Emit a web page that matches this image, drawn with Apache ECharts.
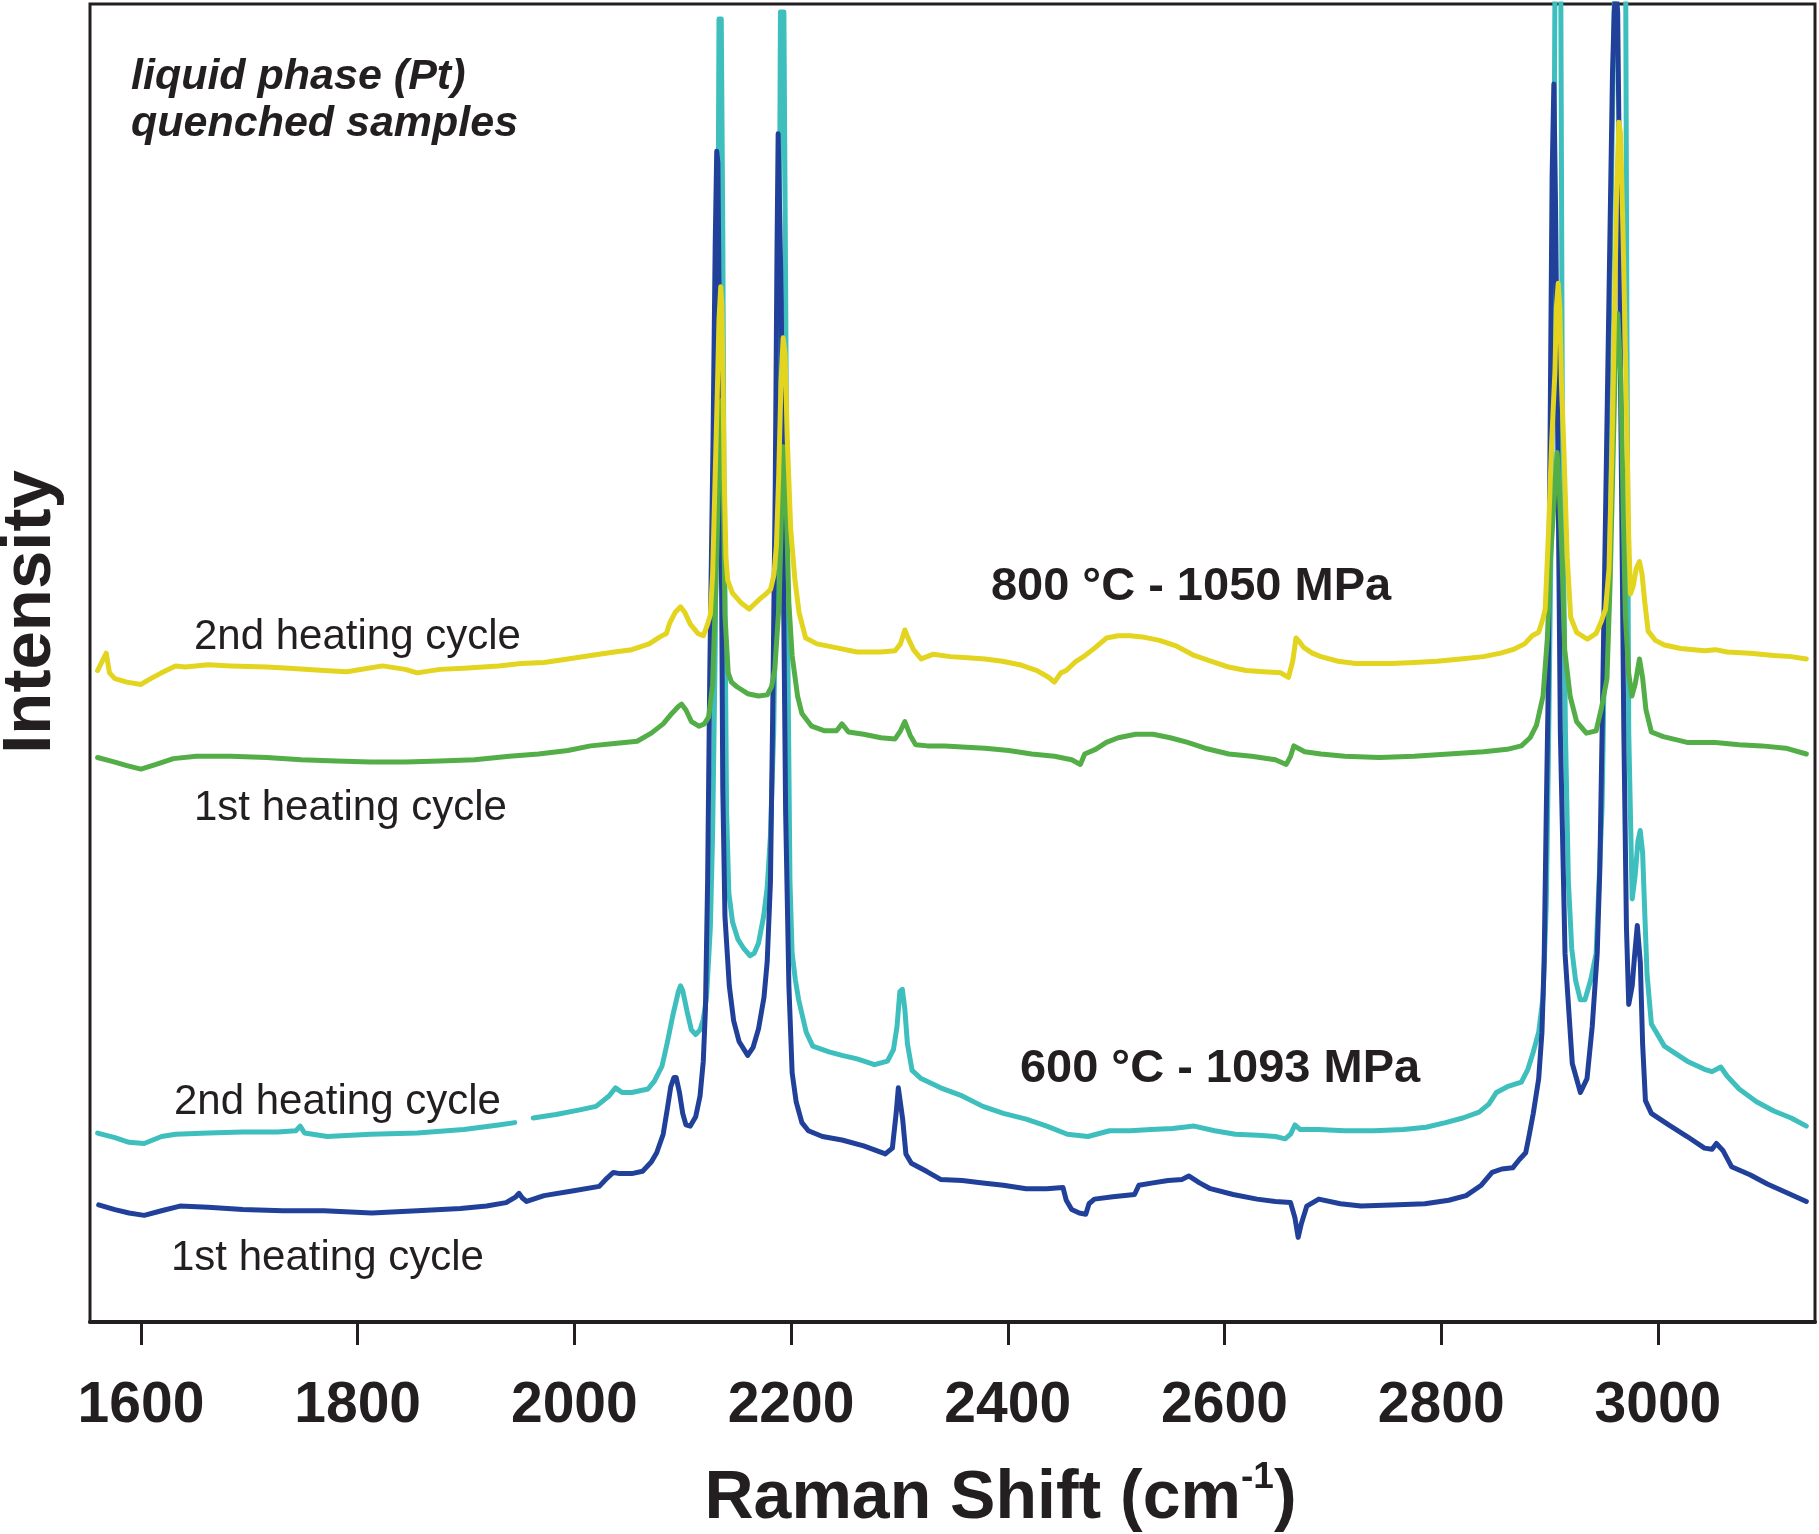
<!DOCTYPE html>
<html><head><meta charset="utf-8">
<script src="https://cdn.jsdelivr.net/npm/echarts@6/dist/echarts.min.js"></script>
<style>html,body{margin:0;padding:0;background:#fff}#chart{width:1819px;height:1534px}</style>
</head><body><div id="chart"></div>
<script>
// Raman shift axis (cm-1)
const xRange = [1553, 3145];
const xTicks = [1600, 1800, 2000, 2200, 2400, 2600, 2800, 3000];
// Intensity in arbitrary units (offset spectra)
const yRange = [0, 1137];

// 800 °C - 1050 MPa, 2nd heating cycle  [shift, intensity]
const spec800_2nd = [[1560,562],[1568,577],[1571,560],[1576,555],[1587,552],[1600,550],[1609,555],[1619,560],[1632,566],[1641,565],[1662,567],[1683,566],[1716,565],[1737,564],[1769,562],[1790,561],[1823,566],[1844,563],[1855,560],[1876,563],[1898,564],[1930,566],[1951,568],[1972,569],[1994,572],[2015,575],[2037,578],[2053,580],[2069,585],[2079,591],[2085,594],[2088,603],[2093,612],[2098,617],[2102,612],[2107,602],[2114,594],[2119,592],[2123,602],[2125.5,610],[2127.6,645],[2129.7,720],[2131.9,800],[2133.5,865],[2135.1,893],[2136.2,878],[2137.2,810],[2138.3,730],[2139.9,660],[2141.5,640],[2145.8,629],[2154.3,620],[2161.3,615],[2167,620],[2171.5,624],[2176.8,628],[2181.1,632],[2184.3,645],[2186.5,670],[2188.6,730],[2190.7,810],[2192.7,849],[2194.5,835],[2196.6,760],[2199.7,684],[2203.6,640],[2207.4,612],[2213.5,590],[2224,585],[2240,582],[2261,578],[2283,578],[2296,579],[2301,585],[2305,597],[2308,590],[2313,580],[2320,572],[2331,576],[2347,574],[2363,573],[2379,572],[2395,570],[2411,567],[2427,562],[2438,556],[2443,552],[2449,560],[2454,562],[2463,570],[2470,574],[2481,582],[2491,590],[2502,592],[2513,592],[2524,591],[2540,588],[2556,583],[2572,575],[2588,570],[2604,565],[2620,562],[2636,561],[2652,560],[2659,556],[2663,570],[2666,590],[2669,587],[2673,582],[2681,577],[2689,574],[2705,570],[2721,568],[2738,568],[2754,568],[2775,569],[2796,570],[2818,572],[2839,574],[2855,577],[2866,580],[2877,585],[2884,592],[2890,595],[2894,607],[2896,615],[2899,680],[2902,760],[2905,820],[2906.3,875],[2908,896],[2909.5,875],[2911,810],[2913,760],[2916.3,660],[2919.5,608],[2925,595],[2935,589],[2943,594],[2948,605],[2951.7,615],[2954.9,650],[2957.8,760],[2960,870],[2962,980],[2964,1035],[2965.6,1025],[2967.8,940],[2970,840],[2971.6,760],[2973,680],[2974.7,628],[2977.3,635],[2980,650],[2983,656],[2985.4,645],[2988,620],[2991,596],[2997.7,588],[3006,584],[3021,581],[3043,579],[3053,580],[3064,578],[3085,577],[3107,575],[3123,574],[3137,572]];

// 800 °C - 1050 MPa, 1st heating cycle
const spec800_1st = [[1560,487],[1576,483],[1587,480],[1600,477],[1614,481],[1630,486],[1651,488],[1683,488],[1716,487],[1748,485],[1780,484],[1812,483],[1844,483],[1876,484],[1908,485],[1940,488],[1967,490],[1994,493],[2015,497],[2037,499],[2058,501],[2071,508],[2082,516],[2090,525],[2096,531],[2099,533],[2103,528],[2108,518],[2115,514],[2120,516],[2124,522],[2127.6,550],[2130.8,640],[2133,720],[2135,790],[2136,795],[2137,760],[2139,610],[2142,560],[2145,552],[2150,548],[2160,542],[2170,540],[2178,541],[2182,548],[2185,563],[2189,620],[2191,690],[2193,755],[2194,750],[2196,690],[2198,620],[2201,575],[2206,540],[2210,525],[2219,514],[2231,510],[2242,510],[2247,516],[2253,509],[2267,507],[2283,504],[2296,503],[2301,510],[2305,518],[2310,506],[2315,498],[2326,497],[2342,497],[2358,496],[2379,495],[2401,493],[2422,490],[2443,488],[2459,485],[2467,481],[2471,490],[2481,494],[2491,500],[2502,504],[2518,507],[2534,507],[2550,504],[2566,500],[2582,495],[2604,490],[2625,488],[2647,485],[2657,481],[2661,488],[2664,497],[2668,495],[2674,492],[2689,490],[2711,488],[2743,487],[2775,488],[2807,490],[2839,492],[2861,494],[2874,497],[2882,504],[2888,515],[2894,540],[2898,590],[2901,660],[2905,720],[2907,750],[2909,720],[2911.5,660],[2914,580],[2919,540],[2925,518],[2934,508],[2943,510],[2948,530],[2953,555],[2956,640],[2959,760],[2961,840],[2963,870],[2966,810],[2968,700],[2970,610],[2973,560],[2976,540],[2979,550],[2983,572],[2986,555],[2989,528],[2994,509],[3005,505],[3027,500],[3053,500],[3075,498],[3096,497],[3118,495],[3137,490]];

// 600 °C - 1093 MPa, 2nd heating cycle ('-' = gap behind label)
const spec600_2nd = [[1560,163],[1576,159],[1589,155],[1603,154],[1619,160],[1632,162],[1662,163],[1694,164],[1726,164],[1743,165],[1747,169],[1751,163],[1772,160],[1812,162],[1855,163],[1898,166],[1930,170],[1945,172],[1954,'-'],[1962,176],[1983,179],[2005,183],[2020,186],[2032,195],[2038,202],[2044,198],[2053,198],[2068,201],[2074,208],[2081,221],[2086,242],[2091,265],[2096,285],[2098,290],[2100,286],[2104,268],[2108,252],[2112,248],[2116,252],[2119,261],[2122,280],[2125.5,340],[2127.6,420],[2130,580],[2132,810],[2133.5,1124],[2135.6,1124],[2137,940],[2138,740],[2140.5,440],[2142.6,370],[2146,345],[2151,330],[2156.5,322],[2162,316],[2166,318],[2170,327],[2174.7,350],[2178,375],[2181,420],[2184,510],[2186,640],[2189,890],[2190.2,1130],[2193.4,1130],[2195,890],[2197,580],[2199,380],[2201,318],[2204,295],[2207,278],[2214,250],[2220,238],[2235,233],[2247,230],[2261,227],[2277,222],[2289,225],[2294.5,235],[2297.8,255],[2300.4,285],[2302.7,287],[2305,270],[2307.4,240],[2311.7,217],[2320,210],[2338,202],[2358,195],[2377,186],[2396,180],[2417,175],[2436,169],[2455,162],[2474,160],[2494,165],[2513,165],[2532,166],[2552,167],[2572,169],[2591,165],[2610,162],[2631,161],[2647,160],[2656,158],[2661,162],[2665,170],[2670,166],[2687,166],[2711,165],[2738,165],[2765,166],[2786,168],[2804,172],[2820,176],[2835,181],[2844,188],[2851,198],[2861,203],[2874,207],[2880,218],[2885,233],[2890,250],[2894,280],[2897,360],[2899,490],[2902,720],[2904,960],[2905,1150],[2910.4,1150],[2912,740],[2914.7,508],[2917.4,380],[2920.5,322],[2924,295],[2928.4,278],[2932.7,278],[2938,295],[2943,318],[2948.5,444],[2951.7,640],[2954.9,840],[2958.1,1040],[2960,1150],[2970.3,1150],[2971.5,840],[2973.1,508],[2976.3,365],[2979,385],[2981.6,415],[2983.7,424],[2985.9,405],[2988,350],[2990,300],[2994,257],[3006,238],[3027,225],[3043,218],[3050,216],[3058,220],[3064,212],[3075,201],[3091,190],[3107,182],[3123,176],[3137,169]];

// 600 °C - 1093 MPa, 1st heating cycle
const spec600_1st = [[1561,101],[1576,97],[1589,94],[1603,92],[1619,96],[1636,100],[1662,99],[1694,97],[1731,96],[1769,96],[1813,94],[1855,96],[1895,98],[1919,100],[1937,103],[1946,108],[1949,111],[1952,107],[1956,104],[1972,109],[1998,113],[2023,117],[2030,124],[2036,129],[2042,128],[2053,128],[2063,130],[2071,138],[2076,146],[2082,162],[2086,185],[2089,203],[2092,211],[2094,211],[2097,198],[2100,180],[2103,170],[2107,169],[2112,177],[2116,195],[2119,225],[2121,270],[2123,380],[2125,560],[2128,760],[2130,930],[2131.4,1010],[2132.5,1000],[2134,840],[2136,620],[2137,460],[2139,350],[2143,290],[2147,260],[2152,242],[2160,230],[2165,237],[2170,253],[2175,280],[2178,311],[2181,380],[2183,520],[2185.4,720],[2187,920],[2188.1,1025],[2189.1,1025],[2191,880],[2193,640],[2195,440],[2198,290],[2201,215],[2204.7,190],[2210,172],[2216,165],[2229,160],[2247,157],[2267,152],[2287,145],[2293.5,150],[2297,180],[2299,202],[2300,203],[2303,175],[2306,145],[2311,137],[2325,130],[2338,123],[2358,122],[2377,120],[2396,118],[2417,115],[2436,115],[2451,116],[2454,105],[2459,97],[2466,94],[2472,93],[2475,102],[2480,106],[2497,108],[2517,110],[2521,118],[2534,120],[2548,122],[2561,123],[2567,126],[2577,120],[2587,115],[2608,110],[2630,106],[2647,104],[2661,103],[2665,90],[2668,73],[2671,85],[2676,100],[2687,106],[2707,102],[2726,100],[2754,101],[2785,102],[2807,105],[2823,109],[2837,118],[2847,129],[2856,132],[2866,133],[2872,140],[2878,146],[2881,160],[2885,180],[2890,210],[2893,250],[2895,310],[2897,440],[2898.7,540],[2901,824],[2902.4,990],[2904,1068],[2905.6,960],[2907,824],[2910,508],[2914.3,318],[2921,223],[2928.5,198],[2934.6,210],[2939.4,255],[2944,318],[2946.4,390],[2948.5,508],[2951.7,697],[2954.9,887],[2958.1,1077],[2959.7,1130],[2961.3,1150],[2962.9,1130],[2964.5,990],[2965.4,824],[2968.6,508],[2971,340],[2973.1,274],[2976.3,290],[2978.4,315],[2981,342],[2983.8,310],[2985.9,240],[2988.5,191],[2994,180],[2998.8,177],[3010,170],[3027,160],[3043,150],[3050,149],[3054,154],[3060,148],[3068,134],[3085,127],[3101,119],[3118,112],[3137,104]];

const FONT = '"Liberation Sans", Arial, Helvetica, sans-serif';
const INK = '#231F20';

const chart = echarts.init(document.getElementById('chart'), null, {renderer: 'canvas'});

function lineSeries(name, data, color) {
  return {
    name, type: 'line', data, showSymbol: false, symbol: 'none',
    clip: true, silent: true, animation: false, connectNulls: false,
    lineStyle: {color, width: 5, join: 'round', cap: 'round'}
  };
}

function label(text, x, y, font, align) {
  return {type: 'text', x, y, z: 100, silent: true,
    style: {text, fill: INK, font, align: align || 'left', verticalAlign: 'middle',
      textAlign: align || 'left', textVerticalAlign: 'middle'}};
}

const option = {
  animation: false,
  backgroundColor: '#ffffff',
  grid: {left: 90, right: 4, top: 4, bottom: 212, containLabel: false, outerBoundsMode: 'none',
    show: true, borderColor: INK, borderWidth: 3, backgroundColor: 'transparent'},
  xAxis: {
    type: 'value', min: xRange[0], max: xRange[1],
    axisLine: {show: true, onZero: false, lineStyle: {color: INK, width: 4}},
    axisTick: {show: true, inside: false, length: 23, customValues: xTicks, lineStyle: {color: INK, width: 3}},
    axisLabel: {show: true, customValues: xTicks, margin: 56, color: INK, fontSize: 57, fontWeight: 'bold', fontFamily: FONT,
      formatter: v => String(v)},
    splitLine: {show: false},
    name: '{a|Raman Shift (cm}{s|-1}{a|)}',
    nameLocation: 'middle', nameGap: 137,
    nameTextStyle: {
      padding: [0, 0, 0, 96],
      rich: {
        a: {fontSize: 68, fontWeight: 'bold', fontFamily: FONT, color: INK, lineHeight: 80},
        s: {fontSize: 37, fontWeight: 'bold', fontFamily: FONT, color: INK, lineHeight: 80, verticalAlign: 'top'}
      }
    }
  },
  yAxis: {
    type: 'value', min: yRange[0], max: yRange[1],
    axisLine: {show: false}, axisTick: {show: false}, axisLabel: {show: false}, splitLine: {show: false}
  },
  series: [
    lineSeries('600 °C 2nd heating cycle', spec600_2nd, '#3EBFBE'),
    lineSeries('600 °C 1st heating cycle', spec600_1st, '#21409A'),
    lineSeries('800 °C 1st heating cycle', spec800_1st, '#54AE47'),
    lineSeries('800 °C 2nd heating cycle', spec800_2nd, '#E2D41F')
  ],
  graphic: [
    {type: 'text', x: 31, y: 612, rotation: Math.PI / 2, z: 100, silent: true,
      style: {text: 'Intensity', fill: INK, font: 'bold 69px ' + FONT, align: 'center', verticalAlign: 'middle', textAlign: 'center', textVerticalAlign: 'middle'}},
    label('liquid phase (Pt)', 131, 77, 'italic bold 43px ' + FONT),
    label('quenched samples', 131, 124, 'italic bold 43px ' + FONT),
    label('800 °C - 1050 MPa', 1191, 587, 'bold 47px ' + FONT, 'center'),
    label('600 °C - 1093 MPa', 1220, 1069, 'bold 47px ' + FONT, 'center'),
    label('2nd heating cycle', 194, 637, '42px ' + FONT),
    label('1st heating cycle', 194, 808, '42px ' + FONT),
    label('2nd heating cycle', 174, 1102, '42px ' + FONT),
    label('1st heating cycle', 171, 1258, '42px ' + FONT)
  ]
};
chart.setOption(option);
</script>
</body></html>
